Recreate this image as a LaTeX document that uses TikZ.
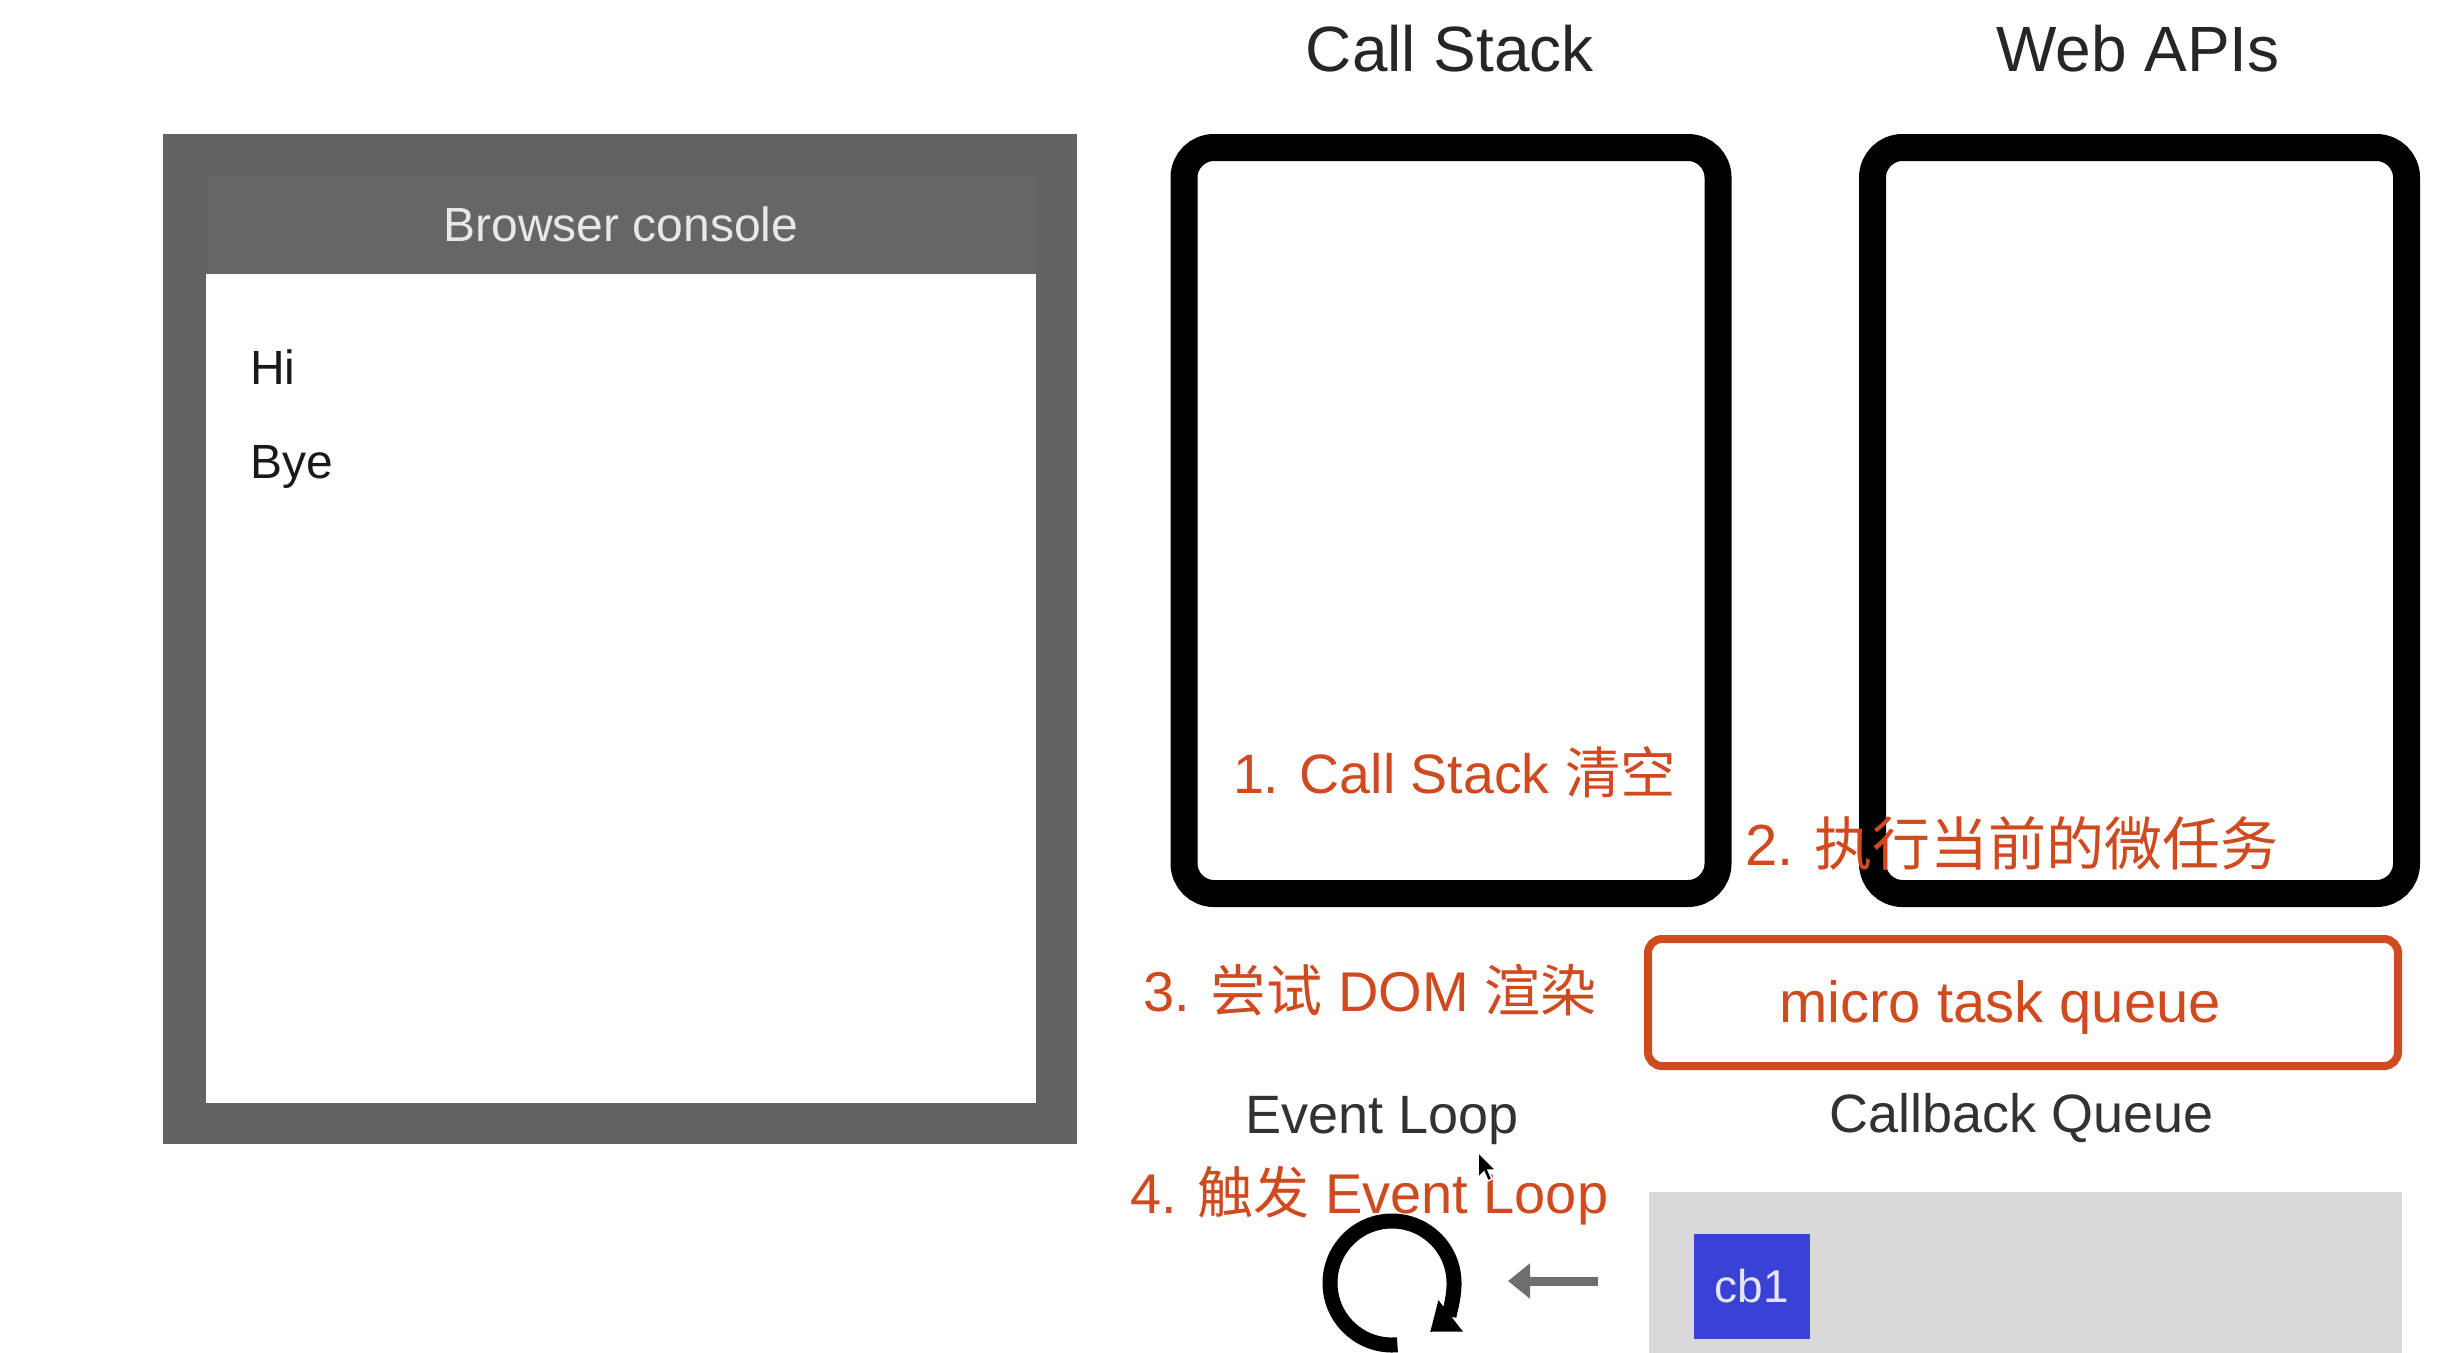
\documentclass[tikz,border=0pt]{standalone}
\usepackage{fontspec}
\setmainfont{Liberation Sans}
\newfontfamily\cjk{Noto Sans CJK SC}
\usetikzlibrary{arrows.meta}
\definecolor{redo}{RGB}{208,74,32}
\definecolor{consolegrey}{RGB}{99,99,99}
\definecolor{headergrey}{RGB}{102,102,102}
\definecolor{consoletext}{RGB}{232,232,232}
\definecolor{qgrey}{RGB}{217,217,217}
\definecolor{cbblue}{RGB}{58,66,214}
\definecolor{cbtext}{RGB}{228,230,240}
\definecolor{arrowgrey}{RGB}{110,110,110}
\definecolor{titletext}{RGB}{38,38,38}
\definecolor{labeltext}{RGB}{50,50,50}
\begin{document}
\begin{tikzpicture}[x=1pt,y=1pt,
  fs/.style={font=\fontsize{#1}{#1}\selectfont},
  plain/.style={inner sep=0pt, outer sep=0pt},
  title/.style={plain, anchor=base, text=titletext, fs=64},
  redlabel/.style={plain, anchor=base west, text=redo, fs=#1},
  panel/.style={plain, draw=black, line width=27pt, rounded corners=30pt, minimum width=534pt, minimum height=746pt},
  consoleline/.style={plain, anchor=base west, text=black!90, fs=48},
  sublabel/.style={plain, anchor=base, text=labeltext, fs=54}
]
\useasboundingbox (0,0) rectangle (2454,-1352);
\fill[white] (0,0) rectangle (2454,-1352);

% Browser console
\node[plain, fill=consolegrey, anchor=north west, minimum width=914pt, minimum height=1010pt] (console) at (163,-134) {};
\node[plain, fill=headergrey, anchor=north west, minimum width=830pt, minimum height=97pt] (header) at (206,-177) {};
\node[plain, fill=white, anchor=north west, minimum width=830pt, minimum height=829pt] (screen) at (206,-274) {};
\node[plain, anchor=base, text=consoletext, fs=48] (bctitle) at (621,-241) {Browser console};
\node[consoleline] (hi) at (250,-384) {Hi};
\node[consoleline] (bye) at (250,-478) {Bye};

% Titles
\node[title] (cstitle) at (1450,-71) {Call Stack};
\node[title] (wtitle) at (2138,-71) {Web APIs};

% Panels
\node[panel] (callstack) at (1451,-520.5) {};
\node[panel] (webapis) at (2139.5,-520.5) {};

% Micro task queue
\node[plain, draw=redo, line width=8pt, rounded corners=14pt, minimum width=750pt, minimum height=127pt] (micro) at (2023,-1002.5) {};
\node[plain, anchor=base, text=redo, fs=58] (microtext) at (2000,-1022) {micro task queue};

% Red step labels
\node[redlabel=55.5] (l1) at (1233,-793) {1. Call Stack {\cjk 清空}};
\node[redlabel=58] (l2) at (1745,-865) {2. {\cjk 执行当前的微任务}};
\node[redlabel=56] (l3) at (1143,-1011) {3. {\cjk 尝试} DOM {\cjk 渲染}};

% Sub labels
\node[sublabel] (eltitle) at (1382,-1133) {Event Loop};
\node[sublabel] (cbtitle) at (2022,-1132) {Callback Queue};

\node[redlabel=56] (l4) at (1130,-1213) {4. {\cjk 触发} Event Loop};

% Callback queue
\node[plain, fill=qgrey, anchor=north west, minimum width=753pt, minimum height=170pt] (cbq) at (1649,-1192) {};
\node[plain, fill=cbblue, text=cbtext, minimum width=116pt, minimum height=105pt, fs=46] (cb1) at (1752,-1286.5) {cb1};

% Event loop circular arrow
\coordinate (loopc) at (1392,-1283);
\draw[line width=15pt, -{Triangle[length=26pt,width=38pt]}] ([shift={(-85:62)}]loopc) arc[start angle=-85, end angle=-412, radius=62];

% Arrow from callback queue to loop
\coordinate (qa) at (1598,-1281);
\coordinate (qb) at (1508,-1281);
\draw[arrowgrey, line width=9pt, -{Triangle[length=22pt,width=34pt]}] (qa) -- (qb);

% Mouse cursor
\coordinate (cur) at (1478,-1152);
\filldraw[fill=black, draw=white, line width=1.5pt, line join=miter] (cur) -- ++(0,-26) -- ++(6,6) -- ++(4,-9) -- ++(4,2) -- ++(-4,9) -- ++(8,0) -- cycle;
\end{tikzpicture}
\end{document}
